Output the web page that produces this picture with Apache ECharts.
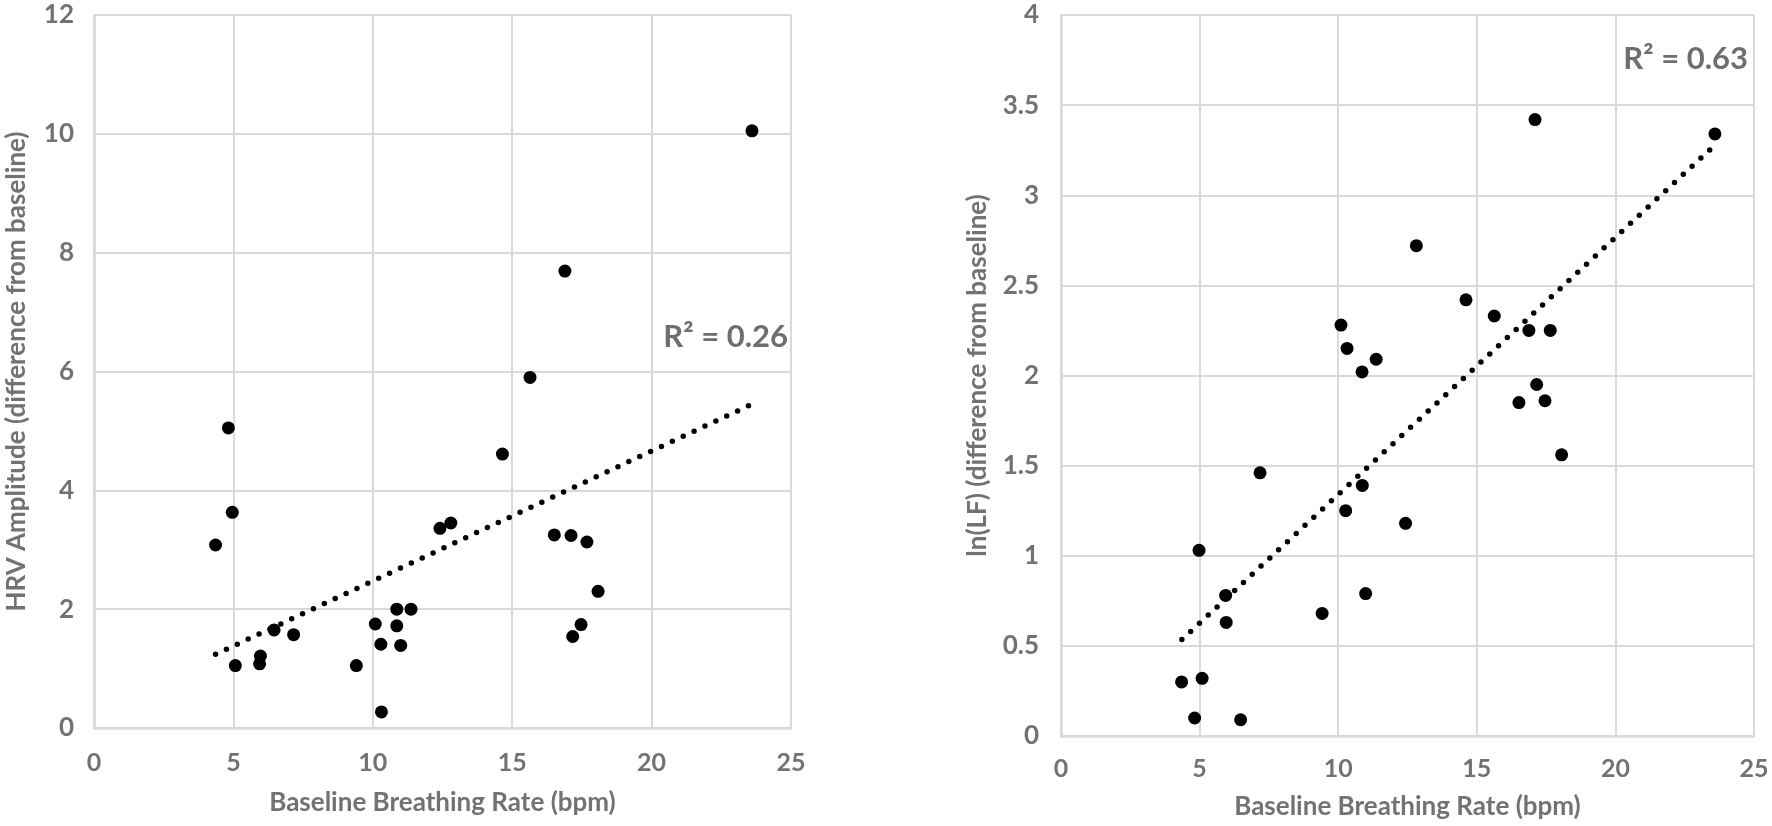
<!DOCTYPE html>
<html>
<head>
<meta charset="utf-8">
<script src="https://cdn.jsdelivr.net/npm/echarts@6/dist/echarts.min.js"></script>
<style>
  html, body { margin: 0; padding: 0; background: #fff; }
  #chart { width: 1772px; height: 826px; }
</style>
</head>
<body>
<div id="chart"></div>
<script>
// left panel: HRV amplitude vs baseline breathing rate
const hrvPoints = [
    [4.82, 5.05], [4.96, 3.63], [4.36, 3.08], [5.07, 1.05], [5.97, 1.21],
    [5.94, 1.08], [6.46, 1.65], [7.16, 1.57], [9.41, 1.05], [10.09, 1.75],
    [10.29, 1.41], [10.31, 0.27], [10.86, 2.0], [10.86, 1.72], [11.37, 2.0],
    [11.0, 1.39], [12.41, 3.36], [12.8, 3.45], [14.65, 4.61], [16.51, 3.25],
    [17.11, 3.24], [17.68, 3.13], [18.08, 2.30], [17.47, 1.74], [17.17, 1.54],
    [23.6, 10.05], [16.89, 7.69], [15.64, 5.90]
]
const hrvTrend = [[4.36, 1.24], [23.6, 5.45]]

// right panel: ln(LF) vs baseline breathing rate
const lfPoints = [
    [7.18, 1.46], [10.87, 1.39], [10.27, 1.25], [4.98, 1.03], [5.94, 0.78],
    [5.96, 0.63], [9.42, 0.68], [10.99, 0.79], [4.35, 0.30], [5.09, 0.32],
    [4.82, 0.10], [6.48, 0.09], [12.43, 1.18], [18.06, 1.56], [16.52, 1.85],
    [17.46, 1.86], [17.1, 3.42], [23.59, 3.34], [12.82, 2.72], [14.61, 2.42],
    [15.63, 2.33], [16.88, 2.25], [17.65, 2.25], [17.16, 1.95], [10.1, 2.28],
    [10.32, 2.15], [11.37, 2.09], [10.86, 2.02]
]
const lfTrend = [[4.36, 0.535], [23.6, 3.28]]

const xTicks = { min: 0, max: 25, interval: 5 }
const hrvTicks = { min: 0, max: 12, interval: 2 }
const lfTicks = { min: 0, max: 4, interval: 0.5 }

const gridColor = "#d9d9d9"
const textColor = "#727272"
const font = "Lato, 'Open Sans', sans-serif"

function xAxisFor(gridIndex, nameGap, labelMargin) {
    return {
        type: "value",
        gridIndex: gridIndex,
        min: xTicks.min,
        max: xTicks.max,
        interval: xTicks.interval,
        name: "Baseline Breathing Rate (bpm)",
        nameLocation: "middle",
        nameGap: nameGap,
        nameTextStyle: { color: textColor, fontSize: 26, fontWeight: "bold", fontFamily: font },
        axisLine: { show: true, lineStyle: { color: gridColor, width: 2.5 } },
        axisTick: { show: false },
        axisLabel: { color: textColor, fontSize: 25, fontWeight: "bold", fontFamily: font, margin: labelMargin },
        splitLine: { show: true, lineStyle: { color: gridColor, width: 2 } }
    }
}

function yAxisFor(gridIndex, ticks, name, nameGap, labelMargin) {
    return {
        type: "value",
        gridIndex: gridIndex,
        min: ticks.min,
        max: ticks.max,
        interval: ticks.interval,
        name: name,
        nameLocation: "middle",
        nameGap: nameGap,
        nameTextStyle: { color: textColor, fontSize: 26, fontWeight: "bold", fontFamily: font },
        axisLine: { show: true, lineStyle: { color: gridColor, width: 2.5 } },
        axisTick: { show: false },
        axisLabel: { color: textColor, fontSize: 26, fontWeight: "bold", fontFamily: font, margin: labelMargin },
        splitLine: { show: true, lineStyle: { color: gridColor, width: 2 } }
    }
}

function trendSeries(axisIndex, data) {
    return {
        type: "line",
        xAxisIndex: axisIndex,
        yAxisIndex: axisIndex,
        data: data,
        symbol: "none",
        silent: true,
        z: 3,
        lineStyle: { color: "#000", width: 5.5, type: [0, 12], cap: "round" }
    }
}

function scatterSeries(axisIndex, data) {
    return {
        type: "scatter",
        xAxisIndex: axisIndex,
        yAxisIndex: axisIndex,
        data: data,
        symbolSize: 13,
        z: 4,
        itemStyle: { color: "#000", opacity: 1 }
    }
}

let chartDom = document.getElementById("chart")
let myChart = echarts.init(chartDom)

let option = {
    animation: false,
    backgroundColor: "#fff",
    grid: [
        { left: 94, right: 981, top: 15, bottom: 98 },
        { left: 1061, right: 18, top: 15, bottom: 90 }
    ],
    xAxis: [
        xAxisFor(0, 62, 22),
        xAxisFor(1, 58, 20)
    ],
    yAxis: [
        yAxisFor(0, hrvTicks, "HRV Amplitude (difference from baseline)", 64, 20),
        yAxisFor(1, lfTicks, "ln(LF) (difference from baseline)", 70, 22)
    ],
    graphic: [
        {
            type: "text",
            right: 1772 - 788,
            top: 321,
            style: { text: "R² = 0.26", fill: "#6e6e6e", font: "bold 31px " + font }
        },
        {
            type: "text",
            right: 1772 - 1748,
            top: 43,
            style: { text: "R² = 0.63", fill: "#6e6e6e", font: "bold 31px " + font }
        }
    ],
    series: [
        trendSeries(0, hrvTrend),
        scatterSeries(0, hrvPoints),
        trendSeries(1, lfTrend),
        scatterSeries(1, lfPoints)
    ]
}

option && myChart.setOption(option)
</script>
</body>
</html>
